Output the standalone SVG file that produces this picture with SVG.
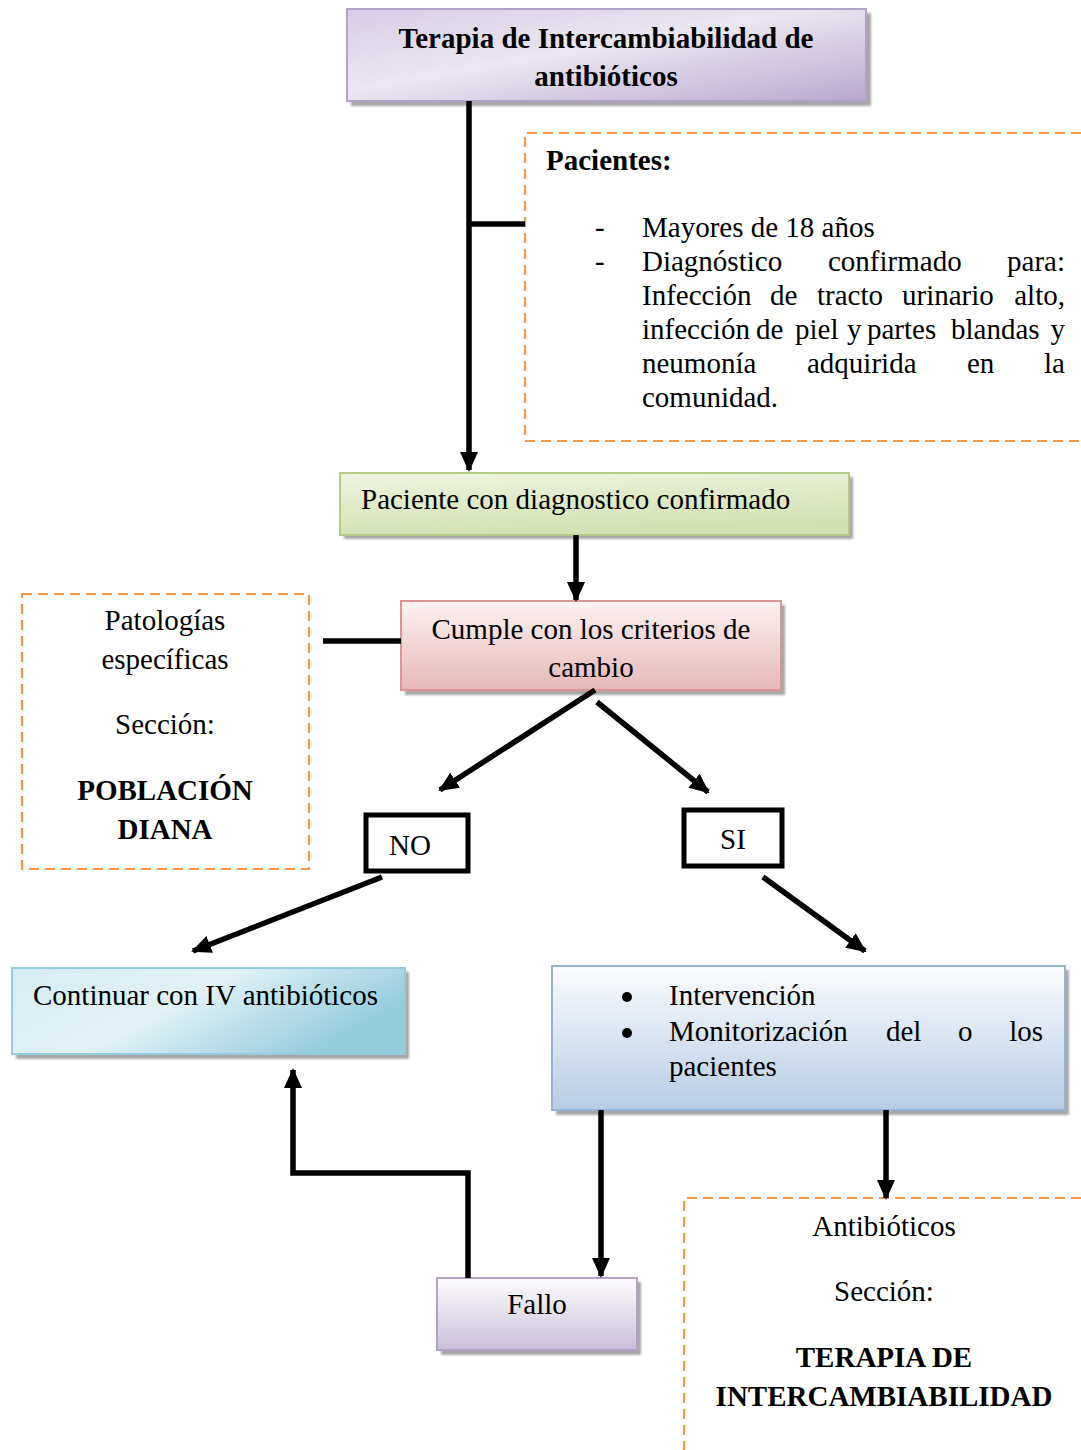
<svg xmlns="http://www.w3.org/2000/svg" width="1081" height="1450" viewBox="0 0 1081 1450">
  <defs>
    <linearGradient id="gPurple" x1="0" y1="0" x2="1" y2="1">
      <stop offset="0" stop-color="#d8cde6"/>
      <stop offset="0.45" stop-color="#ebe6f1"/>
      <stop offset="1" stop-color="#b9a8cd"/>
    </linearGradient>
    <linearGradient id="gGreen" x1="0" y1="0" x2="0.3" y2="1">
      <stop offset="0" stop-color="#eef4e2"/>
      <stop offset="1" stop-color="#d2e1b0"/>
    </linearGradient>
    <linearGradient id="gPink" x1="0" y1="0" x2="0" y2="1">
      <stop offset="0" stop-color="#fdf2f2"/>
      <stop offset="1" stop-color="#e5b8b7"/>
    </linearGradient>
    <linearGradient id="gCyan" x1="0" y1="0" x2="1" y2="0.4">
      <stop offset="0" stop-color="#d6ecf2"/>
      <stop offset="0.5" stop-color="#e2f1f6"/>
      <stop offset="1" stop-color="#94cddc"/>
    </linearGradient>
    <linearGradient id="gBlue" x1="0" y1="0" x2="0" y2="1">
      <stop offset="0" stop-color="#fbfcfe"/>
      <stop offset="1" stop-color="#b8cce4"/>
    </linearGradient>
    <linearGradient id="gFallo" x1="0" y1="0" x2="0" y2="1">
      <stop offset="0" stop-color="#fdfcfe"/>
      <stop offset="1" stop-color="#cbbfd9"/>
    </linearGradient>
    <filter id="shadow" x="-5%" y="-10%" width="115%" height="130%">
      <feGaussianBlur stdDeviation="1"/>
    </filter>
    <marker id="arrow" viewBox="0 0 20 18" refX="18" refY="9" markerWidth="20" markerHeight="18" markerUnits="userSpaceOnUse" orient="auto">
      <path d="M0,0 L20,9 L0,18 Z" fill="#000"/>
    </marker>
  </defs>
  <style>
    text { font-family: "Liberation Serif", "Times New Roman", serif; font-size: 29px; fill: #000; }
    .b { font-weight: bold; }
    .mid { text-anchor: middle; }
    .end { text-anchor: end; }
    .shade { fill: #8a8a8a; opacity: 0.75; filter: url(#shadow); }
    .dash { fill: none; stroke: #f79646; stroke-width: 2.2; stroke-dasharray: 10 6; }
    .conn { fill: none; stroke: #000; stroke-width: 5.5; }
    .tag { fill: #fff; stroke: #000; stroke-width: 5; }
  </style>

  <rect width="1081" height="1450" fill="#fff"/>

  <!-- Title -->
  <g id="title">
    <rect class="shade" x="351" y="13" width="520" height="93"/>
    <rect x="347" y="9" width="519" height="92" fill="url(#gPurple)" stroke="#b3a2c7" stroke-width="2"/>
    <text class="b mid" x="606" y="48">Terapia de Intercambiabilidad de</text>
    <text class="b mid" x="606" y="86">antibióticos</text>
  </g>

  <!-- Patient criteria note -->
  <g id="pacientes">
    <path class="dash" d="M1081,133 H525 V441 H1081"/>
    <text class="b" x="546" y="170">Pacientes:</text>
    <text x="595" y="237">-</text>
    <text x="642" y="237">Mayores de 18 años</text>
    <text x="595" y="271">-</text>
    <text x="642" y="271">Diagnóstico</text>
    <text x="828" y="271">confirmado</text>
    <text class="end" x="1065" y="271">para:</text>
    <text x="642" y="305">Infección<tspan x="770">de</tspan><tspan x="817">tracto</tspan><tspan x="902">urinario</tspan></text>
    <text class="end" x="1065" y="305">alto,</text>
    <text x="642" y="339">infección<tspan x="756">de</tspan><tspan x="795">piel</tspan><tspan x="847">y</tspan><tspan x="867">partes</tspan><tspan x="951">blandas</tspan></text>
    <text class="end" x="1065" y="339">y</text>
    <text x="642" y="373">neumonía<tspan x="807">adquirida</tspan><tspan x="967">en</tspan></text>
    <text class="end" x="1065" y="373">la</text>
    <text x="642" y="407">comunidad.</text>
  </g>

  <!-- Confirmed diagnosis -->
  <g id="diagnostico">
    <rect class="shade" x="344" y="477" width="509" height="62"/>
    <rect x="340" y="473" width="509" height="62" fill="url(#gGreen)" stroke="#b5cc88" stroke-width="2"/>
    <text x="361" y="509">Paciente con diagnostico confirmado</text>
  </g>

  <!-- Switch criteria -->
  <g id="criterios">
    <rect class="shade" x="405" y="605" width="380" height="90"/>
    <rect x="401" y="601" width="380" height="89" fill="url(#gPink)" stroke="#d99694" stroke-width="2"/>
    <text class="mid" x="591" y="639">Cumple con los criterios de</text>
    <text class="mid" x="591" y="677">cambio</text>
  </g>

  <!-- Target population note -->
  <g id="poblacion">
    <rect class="dash" x="22" y="594" width="287" height="275"/>
    <text class="mid" x="165" y="630">Patologías</text>
    <text class="mid" x="165" y="669">específicas</text>
    <text class="mid" x="165" y="734">Sección:</text>
    <text class="b mid" x="165" y="800">POBLACIÓN</text>
    <text class="b mid" x="165" y="839">DIANA</text>
  </g>

  <!-- Decision tags -->
  <g id="no">
    <rect class="tag" x="366" y="815" width="102" height="56"/>
    <text class="mid" x="410" y="855">NO</text>
  </g>
  <g id="si">
    <rect class="tag" x="684" y="810" width="98" height="56"/>
    <text class="mid" x="733" y="849">SI</text>
  </g>

  <!-- Stay on IV -->
  <g id="continuar">
    <rect class="shade" x="16" y="972" width="393" height="87"/>
    <rect x="12" y="968" width="393" height="86" fill="url(#gCyan)" stroke="#93cddd" stroke-width="2"/>
    <text x="33" y="1005">Continuar con IV antibióticos</text>
  </g>

  <!-- Intervention -->
  <g id="intervencion">
    <rect class="shade" x="556" y="970" width="513" height="145"/>
    <rect x="552" y="966" width="513" height="144" fill="url(#gBlue)" stroke="#95b3d7" stroke-width="2"/>
    <circle cx="627" cy="997" r="5"/>
    <text x="669" y="1005">Intervención</text>
    <circle cx="627" cy="1033" r="5"/>
    <text x="669" y="1041">Monitorización<tspan x="886">del</tspan><tspan x="958">o</tspan></text>
    <text class="end" x="1043" y="1041">los</text>
    <text x="669" y="1076">pacientes</text>
  </g>

  <!-- Failure -->
  <g id="fallo">
    <rect class="shade" x="441" y="1282" width="200" height="73"/>
    <rect x="437" y="1278" width="200" height="72" fill="url(#gFallo)" stroke="#b3a2c7" stroke-width="2"/>
    <text class="mid" x="537" y="1314">Fallo</text>
  </g>

  <!-- Switch therapy note -->
  <g id="terapia">
    <path class="dash" d="M1081,1198 H684 V1450"/>
    <text class="mid" x="884" y="1236">Antibióticos</text>
    <text class="mid" x="884" y="1301">Sección:</text>
    <text class="b mid" x="884" y="1367">TERAPIA DE</text>
    <text class="b mid" x="884" y="1406">INTERCAMBIABILIDAD</text>
  </g>

  <!-- Connectors -->
  <g id="connectors">
    <path class="conn" d="M469,101 V470" marker-end="url(#arrow)"/>
    <path class="conn" d="M469,224 H525"/>
    <path class="conn" d="M576,535 V600" marker-end="url(#arrow)"/>
    <path class="conn" d="M323,641 H401"/>
    <path class="conn" d="M595,690 L440,790" marker-end="url(#arrow)"/>
    <path class="conn" d="M597,702 L708,792" marker-end="url(#arrow)"/>
    <path class="conn" d="M382,877 L193,951" marker-end="url(#arrow)"/>
    <path class="conn" d="M763,877 L865,951" marker-end="url(#arrow)"/>
    <path class="conn" d="M601,1110 V1276" marker-end="url(#arrow)"/>
    <path class="conn" d="M886,1110 V1198" marker-end="url(#arrow)"/>
    <path class="conn" d="M468,1278 V1173 H293 V1070" marker-end="url(#arrow)"/>
  </g>
</svg>
